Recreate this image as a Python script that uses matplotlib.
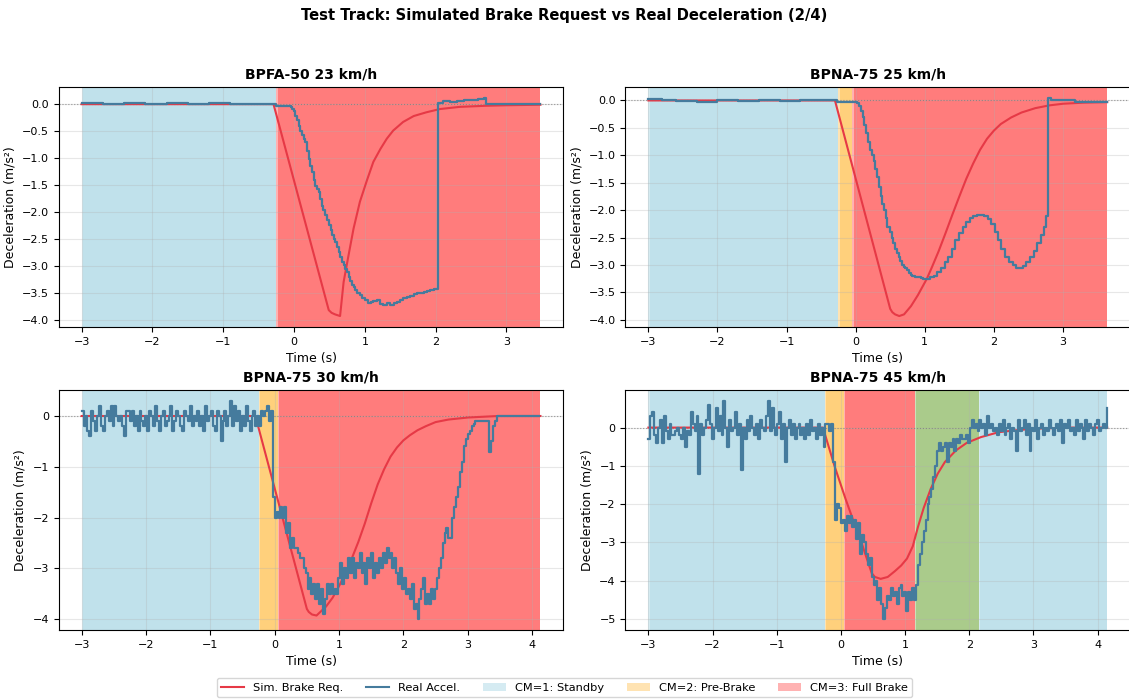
import numpy as np
import matplotlib
matplotlib.use("Agg")
import matplotlib.pyplot as plt
from matplotlib.lines import Line2D
from matplotlib.patches import Patch

# ---- data ----
titles = ["BPFA-50 23 km/h", "BPNA-75 25 km/h", "BPNA-75 30 km/h", "BPNA-75 45 km/h"]

# CM mode segments (start, end, mode)
modes_1 = [(-3.0, -0.25, 1), (-0.25, 3.48, 3)]
modes_2 = [(-3.0, -0.25, 1), (-0.25, -0.05, 2), (-0.05, 3.64, 3)]
modes_3 = [(-3.0, -0.25, 1), (-0.25, 0.05, 2), (0.05, 4.13, 3)]
modes_4 = [(-3.0, -0.25, 1), (-0.25, 0.05, 2), (0.05, 1.15, 3), (1.15, 2.15, 4), (2.15, 4.15, 1)]

# simulated brake request (knots)
sim_t1 = [-3.0, -0.29, 0.49, 0.53, 0.58, 0.65, 0.7, 0.77, 0.84, 0.93, 1.03, 1.12, 1.22, 1.31, 1.4,
          1.54, 1.69, 1.87, 2.06, 2.34, 2.7, 3.0, 3.48]
sim_v1 = [0.0, 0.0, -3.82, -3.87, -3.9, -3.93, -3.3, -2.8, -2.31, -1.81, -1.41, -1.07, -0.83, -0.64, -0.49,
          -0.33, -0.22, -0.15, -0.09, -0.05, -0.03, -0.02, -0.01]
sim_t2 = [-3.0, -0.3, 0.5, 0.53, 0.57, 0.63, 0.7, 0.8, 0.9, 1.03, 1.1, 1.2, 1.3, 1.4, 1.5, 1.6, 1.7,
          1.8, 1.9, 2.0, 2.1, 2.25, 2.4, 2.6, 2.8, 3.0, 3.3, 3.64]
sim_v2 = [0.0, 0.0, -3.8, -3.86, -3.9, -3.93, -3.9, -3.75, -3.55, -3.25, -3.05, -2.75, -2.42, -2.08, -1.75, -1.43, -1.15,
          -0.9, -0.7, -0.55, -0.43, -0.31, -0.22, -0.14, -0.09, -0.06, -0.04, -0.03]
sim_t3 = [-3.0, -0.3, 0.5, 0.53, 0.58, 0.65, 0.8, 0.9, 1.0, 1.1, 1.2, 1.3, 1.4, 1.5, 1.6, 1.7, 1.8,
          1.9, 2.0, 2.1, 2.22, 2.35, 2.5, 2.7, 3.0, 3.47, 4.13]
sim_v3 = [0.0, 0.0, -3.8, -3.86, -3.91, -3.93, -3.75, -3.58, -3.35, -3.1, -2.8, -2.48, -2.12, -1.72, -1.35, -1.05, -0.8,
          -0.62, -0.48, -0.38, -0.28, -0.2, -0.12, -0.07, -0.03, 0.0, 0.0]
sim_t4 = [-3.0, -0.28, -0.1, 0.07, 0.23, 0.34, 0.48, 0.53, 0.62, 0.73, 0.84, 0.94, 1.03, 1.12, 1.2, 1.29,
          1.4, 1.51, 1.62, 1.79, 1.96, 2.18, 2.46, 2.73, 3.0, 3.57, 4.15]
sim_v4 = [0.0, 0.0, -1.0, -1.85, -2.6, -3.1, -3.8, -3.9, -3.95, -3.9, -3.75, -3.6, -3.42, -3.1, -2.6, -2.1,
          -1.6, -1.2, -0.9, -0.6, -0.4, -0.25, -0.12, -0.07, -0.03, 0.0, 0.0]

# real acceleration, panels 1-2 as step knots
real_t1 = [-3.0, -2.7, -2.4, -2.1, -1.8, -1.5, -1.2, -0.9, -0.6, -0.3, -0.25, -0.05, -0.03, 0.0, 0.02,
           0.045, 0.07, 0.09, 0.11, 0.135, 0.16, 0.185, 0.21, 0.23, 0.25, 0.275, 0.3, 0.325, 0.35, 0.37,
           0.39, 0.415, 0.44, 0.465, 0.49, 0.515, 0.54, 0.56, 0.58, 0.605, 0.63, 0.655, 0.68, 0.7, 0.72,
           0.745, 0.77, 0.795, 0.82, 0.84, 0.86, 0.895, 0.93, 0.965, 1.0, 1.04, 1.08, 1.12, 1.17, 1.21,
           1.26, 1.31, 1.36, 1.41, 1.45, 1.5, 1.54, 1.59, 1.64, 1.69, 1.73, 1.78, 1.83, 1.88, 1.92,
           1.97, 2.01, 2.03, 2.1, 2.2, 2.3, 2.4, 2.5, 2.6, 2.68, 2.71, 3.48]
real_v1 = [0.02, 0.01, 0.02, 0.01, 0.02, 0.01, 0.02, 0.01, 0.01, 0.0, -0.03, -0.05, -0.09, -0.13, -0.21,
           -0.3, -0.4, -0.5, -0.58, -0.65, -0.7, -0.86, -1.01, -1.14, -1.26, -1.4, -1.51, -1.58, -1.63, -1.76,
           -1.88, -1.97, -2.06, -2.15, -2.25, -2.34, -2.43, -2.5, -2.56, -2.65, -2.74, -2.84, -2.93, -2.99, -3.05,
           -3.12, -3.2, -3.28, -3.36, -3.4, -3.45, -3.5, -3.54, -3.6, -3.64, -3.68, -3.67, -3.65, -3.64, -3.7,
           -3.72, -3.69, -3.72, -3.68, -3.67, -3.63, -3.6, -3.58, -3.56, -3.53, -3.51, -3.5, -3.48, -3.46, -3.45,
           -3.43, -3.42, 0.03, 0.05, 0.04, 0.06, 0.07, 0.08, 0.1, 0.12, 0.0, 0.0]
real_t2 = [-3.0, -2.9, -2.8, -2.6, -2.3, -2.0, -1.7, -1.4, -1.1, -0.8, -0.5, -0.27, 0.0, 0.025, 0.05,
           0.075, 0.1, 0.125, 0.15, 0.18, 0.21, 0.235, 0.26, 0.285, 0.31, 0.335, 0.36, 0.385, 0.41, 0.435,
           0.46, 0.49, 0.52, 0.545, 0.57, 0.595, 0.62, 0.645, 0.67, 0.695, 0.72, 0.745, 0.77, 0.795, 0.82,
           0.86, 0.9, 0.94, 0.98, 1.03, 1.08, 1.13, 1.18, 1.24, 1.29, 1.34, 1.39, 1.44, 1.5, 1.55,
           1.6, 1.65, 1.7, 1.75, 1.8, 1.86, 1.91, 1.96, 2.01, 2.06, 2.11, 2.16, 2.22, 2.27, 2.32,
           2.37, 2.42, 2.47, 2.53, 2.58, 2.63, 2.68, 2.72, 2.76, 2.78, 2.83, 3.17, 3.64]
real_v2 = [0.03, 0.02, 0.0, -0.01, -0.02, 0.0, -0.01, 0.0, -0.01, 0.01, 0.0, -0.02, -0.02, -0.05, -0.1,
           -0.2, -0.3, -0.45, -0.6, -0.75, -0.9, -1.0, -1.1, -1.25, -1.4, -1.58, -1.75, -1.88, -2.0, -2.15,
           -2.3, -2.4, -2.5, -2.6, -2.7, -2.78, -2.85, -2.93, -3.0, -3.03, -3.05, -3.1, -3.15, -3.18, -3.2,
           -3.22, -3.21, -3.24, -3.25, -3.26, -3.22, -3.2, -3.13, -3.05, -2.95, -2.85, -2.7, -2.55, -2.42, -2.3,
           -2.22, -2.15, -2.1, -2.08, -2.08, -2.1, -2.17, -2.25, -2.4, -2.55, -2.7, -2.85, -2.95, -3.0, -3.05,
           -3.05, -3.02, -2.95, -2.85, -2.75, -2.6, -2.45, -2.3, -2.1, 0.05, 0.0, -0.03, -0.03]

# real acceleration, panels 3-4 sampled every 0.03 s from -3.0 s
real_start, real_dt = -3.0, 0.03
real_v3 = [
    0.1, -0.2, 0.0, -0.3, -0.4, 0.1, -0.1, -0.3, 0.0, 0.2, -0.2, -0.3, 0.0, 0.1, -0.1, 0.2, -0.2, 0.2, 0.0, -0.1,
    0.0, -0.2, -0.4, 0.1, 0.1, -0.1, 0.1, -0.2, 0.0, -0.3, 0.1, -0.1, -0.2, 0.0, -0.3, 0.1, 0.0, -0.2, 0.2, -0.1,
    -0.3, 0.0, 0.1, -0.2, -0.1, 0.0, 0.2, -0.3, -0.1, 0.1, 0.0, -0.2, -0.3, 0.1, 0.0, -0.1, 0.2, -0.2, 0.0, -0.1,
    0.1, -0.2, 0.0, -0.3, 0.2, -0.1, 0.0, 0.1, -0.2, -0.3, 0.1, 0.0, -0.5, -0.1, 0.1, -0.2, 0.0, 0.3, -0.2, 0.2,
    -0.1, 0.1, -0.3, 0.0, -0.2, 0.2, -0.1, -0.3, 0.0, 0.1, -0.2, 0.0, -0.2, 0.1, 0.0, 0.1, 0.2, -0.1, 0.1, -1.6,
    -2.0, -1.9, -2.0, -1.8, -2.0, -1.8, -2.3, -2.1, -2.6, -2.4, -2.6, -2.6, -2.7, -2.8, -2.8, -3.0, -3.1, -3.4, -3.2, -3.5,
    -3.3, -3.6, -3.3, -3.7, -3.4, -3.9, -3.6, -3.3, -3.5, -3.3, -3.5, -3.4, -3.5, -3.2, -2.9, -3.3, -3.0, -3.2, -2.8, -3.1,
    -2.8, -3.2, -2.9, -3.0, -2.7, -3.1, -2.9, -3.3, -2.8, -3.0, -2.7, -3.2, -2.9, -3.1, -2.8, -3.0, -2.7, -2.9, -2.6, -2.8,
    -2.7, -3.0, -2.8, -3.1, -3.3, -3.0, -3.4, -3.2, -3.5, -3.4, -3.6, -3.3, -3.8, -3.7, -4.0, -3.6, -3.4, -3.2, -3.7, -3.5,
    -3.7, -3.4, -3.6, -3.4, -3.2, -3.0, -2.8, -2.5, -2.3, -2.2, -2.4, -2.4, -2.0, -1.8, -1.6, -1.4, -1.1, -0.9, -0.6, -0.45,
    -0.35, -0.3, -0.2, -0.15, -0.1, -0.1, -0.1, -0.1, -0.1, -0.1, -0.1, -0.7, -0.5, -0.2, -0.1, 0.0, 0.0, 0.0, 0.0, 0.0,
    0.0, 0.0, 0.0, 0.0, 0.0, 0.0, 0.0, 0.0, 0.0, 0.0, 0.0, 0.0, 0.0, 0.0, 0.0, 0.0, 0.0, 0.0,
]
real_v4 = [
    -0.3, 0.3, 0.4, -0.2, -0.4, 0.0, 0.2, -0.4, 0.3, -0.1, -0.3, 0.1, -0.2, -0.2, -0.1, 0.0, -0.2, -0.3, 0.0, -0.5,
    -0.1, -0.2, 0.4, 0.1, -0.1, 0.3, -1.2, 0.1, -0.2, 0.0, 0.2, 0.6, 0.1, -0.3, 0.0, 0.5, -0.1, 0.3, -0.2, 0.7,
    0.0, -0.5, 0.2, -0.1, 0.0, 0.4, -0.2, 0.1, -1.1, 0.0, -0.3, 0.2, -0.1, 0.3, 0.0, -0.2, 0.1, -0.3, 0.2, 0.0,
    -0.1, 0.3, 0.7, -0.1, 0.5, 0.0, -0.2, 0.1, 0.4, -0.3, 0.1, -0.9, 0.0, 0.2, -0.2, 0.1, -0.3, 0.0, 0.1, -0.2,
    0.0, -0.3, 0.1, -0.2, 0.2, -0.1, 0.0, -0.3, 0.1, -0.2, 0.0, -0.5, 0.1, 0.1, -0.1, 0.1, -0.9, -2.4, -2.0, -2.1,
    -2.5, -2.4, -2.7, -2.3, -2.5, -2.3, -2.6, -2.4, -2.9, -2.5, -3.3, -2.8, -3.0, -3.3, -3.6, -3.4, -3.9, -4.1, -4.0, -4.5,
    -4.2, -4.6, -5.0, -4.7, -4.4, -4.5, -4.2, -4.4, -4.3, -4.6, -4.2, -4.1, -4.4, -4.3, -4.8, -4.3, -4.5, -4.2, -4.5, -4.1,
    -3.6, -3.3, -3.0, -2.7, -2.4, -2.0, -1.8, -1.6, -1.3, -1.0, -0.6, -0.4, -0.6, -0.5, -0.4, -0.9, -0.4, -0.5, -0.3, -0.6,
    -0.3, -0.4, -0.2, -0.3, -0.3, -0.2, -0.4, 0.0, 0.2, 0.0, 0.1, -0.1, 0.2, 0.0, 0.1, -0.2, 0.3, 0.0, 0.1, -0.1,
    0.0, -0.2, 0.1, -0.1, 0.2, -0.2, 0.0, 0.1, -0.3, 0.0, -0.1, -0.6, 0.2, -0.1, 0.0, 0.2, -0.2, 0.1, -0.6, 0.0,
    -0.1, 0.2, -0.3, 0.0, 0.1, -0.2, 0.0, -0.1, 0.2, 0.0, -0.2, 0.0, 0.1, -0.1, 0.2, -0.4, 0.1, 0.0, 0.2, -0.1,
    0.0, -0.2, 0.2, -0.1, 0.1, 0.0, -0.3, 0.2, -0.1, 0.1, 0.0, -0.2, 0.1, 0.2, -0.1, 0.0, 0.1, 0.0, 0.5,
]

# ---- styling ----
SIM_COLOR = "#E63946"
REAL_COLOR = "#457B9D"
mode_colors = {1: ("lightblue", 0.5), 2: ("orange", 0.3), 3: ("red", 0.3), 4: ("#5a9b1e", 0.3)}
SPAN_DT = 0.02

real_t3 = real_start + real_dt * np.arange(len(real_v3))
real_t4 = real_start + real_dt * np.arange(len(real_v4))

panels = [
    (titles[0], modes_1, sim_t1, sim_v1, real_t1, real_v1),
    (titles[1], modes_2, sim_t2, sim_v2, real_t2, real_v2),
    (titles[2], modes_3, sim_t3, sim_v3, real_t3, real_v3),
    (titles[3], modes_4, sim_t4, sim_v4, real_t4, real_v4),
]

fig, axes = plt.subplots(2, 2, figsize=(11.29, 7.0), dpi=100)
fig.subplots_adjust(left=0.052, right=1.001, top=0.876, bottom=0.1, wspace=0.123, hspace=0.262)

for ax, (title, modes, st, sv, rt, rv) in zip(axes.flat, panels):
    # shading drawn per log sample (overlapping strips)
    for a, b, m in modes:
        c, al = mode_colors[m]
        for t0 in np.arange(a, b, SPAN_DT):
            ax.axvspan(t0, min(t0 + 2 * SPAN_DT, b), color=c, alpha=al, lw=0)
    ax.axhline(0, color="gray", ls=":", lw=0.8, alpha=0.8)
    ax.plot(st, sv, color=SIM_COLOR, lw=1.5, zorder=3)
    ax.plot(rt, rv, color=REAL_COLOR, lw=1.6, drawstyle="steps-post", zorder=4)
    ax.set_title(title, fontsize=10, fontweight="bold")
    ax.set_xlabel("Time (s)", fontsize=9)
    ax.set_ylabel("Deceleration (m/s²)", fontsize=9)
    ax.tick_params(labelsize=8)
    ax.grid(True, alpha=0.3)

fig.suptitle("Test Track: Simulated Brake Request vs Real Deceleration (2/4)",
             fontsize=10.6, fontweight="bold", y=0.988)

handles = [
    Line2D([0], [0], color=SIM_COLOR, lw=1.5, label="Sim. Brake Req."),
    Line2D([0], [0], color=REAL_COLOR, lw=1.5, label="Real Accel."),
    Patch(facecolor="lightblue", alpha=0.5, label="CM=1: Standby"),
    Patch(facecolor="orange", alpha=0.3, label="CM=2: Pre-Brake"),
    Patch(facecolor="red", alpha=0.3, label="CM=3: Full Brake"),
]
fig.legend(handles=handles, loc="lower center", bbox_to_anchor=(0.5, -0.004), ncol=5, fontsize=8.2)

fig.savefig("out.png", dpi=100)
